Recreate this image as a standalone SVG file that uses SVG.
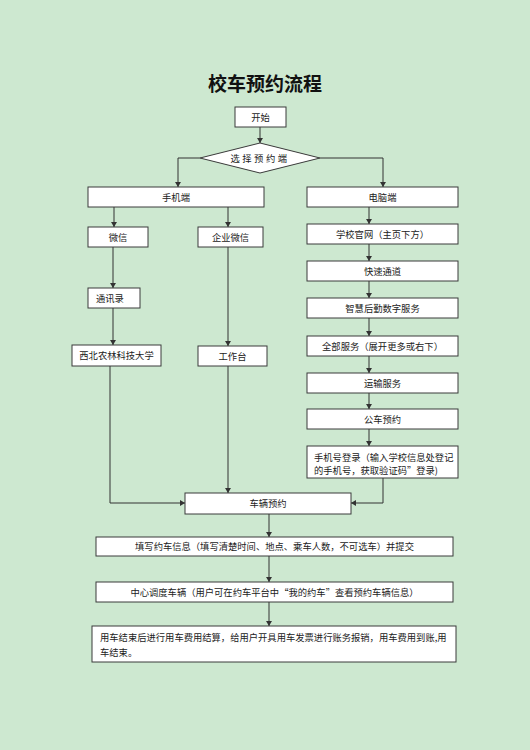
<svg xmlns="http://www.w3.org/2000/svg" width="530" height="750" viewBox="0 0 530 750">
<style>
.bx{fill:#fff;stroke:#3a3a3a;stroke-width:1}
.t{font-family:"Noto Sans CJK SC","Liberation Serif",sans-serif;font-size:9.3px;fill:#222;text-anchor:middle}
.tl{text-anchor:start}
.ln{fill:none;stroke:#333;stroke-width:1}
</style>
<defs>
<marker id="ar" markerUnits="userSpaceOnUse" markerWidth="6" markerHeight="6" refX="5" refY="3" orient="auto">
<path d="M0,0 L5,3 L0,6 z" fill="#333"/>
</marker>
</defs>
<rect width="530" height="750" fill="#cde8d0"/>
<text x="265" y="91" style="font-family:'Noto Sans CJK SC','Liberation Serif',serif;font-size:19px;font-weight:bold;fill:#111;text-anchor:middle">校车预约流程</text>
<g id="connectors">
<path class="ln" d="M260,127 V143" marker-end="url(#ar)"/>
<path class="ln" d="M200,158 H178 V187" marker-end="url(#ar)"/>
<path class="ln" d="M320,158 H383 V187" marker-end="url(#ar)"/>
<path class="ln" d="M114,207 V227" marker-end="url(#ar)"/>
<path class="ln" d="M228,207 V227" marker-end="url(#ar)"/>
<path class="ln" d="M113,247 V288" marker-end="url(#ar)"/>
<path class="ln" d="M228,247 V346" marker-end="url(#ar)"/>
<path class="ln" d="M113,308 V345" marker-end="url(#ar)"/>
<path class="ln" d="M110,366 V503 H185" marker-end="url(#ar)"/>
<path class="ln" d="M228,366 V493" marker-end="url(#ar)"/>
<path class="ln" d="M383,478 V503 H351" marker-end="url(#ar)"/>
<path class="ln" d="M369,207 V224" marker-end="url(#ar)"/>
<path class="ln" d="M369,244 V261" marker-end="url(#ar)"/>
<path class="ln" d="M369,281 V298" marker-end="url(#ar)"/>
<path class="ln" d="M369,318 V336" marker-end="url(#ar)"/>
<path class="ln" d="M369,356 V373" marker-end="url(#ar)"/>
<path class="ln" d="M369,393 V409" marker-end="url(#ar)"/>
<path class="ln" d="M369,429 V446" marker-end="url(#ar)"/>
<path class="ln" d="M269,514 V537" marker-end="url(#ar)"/>
<path class="ln" d="M269,556 V582" marker-end="url(#ar)"/>
<path class="ln" d="M269,602 V626" marker-end="url(#ar)"/>
</g>
<g id="start"><rect class="bx" x="235" y="107" width="51" height="20"/><text class="t" x="260.5" y="120.5">开始</text></g>
<g id="choose"><polygon class="bx" points="200,158 260,143 320,158 260,173"/><text class="t" x="260" y="161.5" style="letter-spacing:2.5px">选择预约端</text></g>
<g id="mobile"><rect class="bx" x="88" y="187" width="176" height="20"/><text class="t" x="176" y="200.5">手机端</text></g>
<g id="wechat"><rect class="bx" x="88" y="227" width="60" height="20"/><text class="t" x="118" y="240.5">微信</text></g>
<g id="wework"><rect class="bx" x="198" y="227" width="65" height="20"/><text class="t" x="230.5" y="240.5">企业微信</text></g>
<g id="contacts"><rect class="bx" x="88" y="288" width="52" height="20"/><text class="t tl" x="96" y="301.5">通讯录</text></g>
<g id="nwafu"><rect class="bx" x="72" y="345" width="89" height="21"/><text class="t" x="116.5" y="358.5">西北农林科技大学</text></g>
<g id="workbench"><rect class="bx" x="198" y="346" width="69" height="20"/><text class="t" x="232.5" y="359.5">工作台</text></g>
<g id="pc"><rect class="bx" x="307" y="187" width="151" height="20"/><text class="t" x="382.5" y="200.5">电脑端</text></g>
<g id="site"><rect class="bx" x="307" y="224" width="151" height="20"/><text class="t" x="382.5" y="237.5">学校官网（主页下方）</text></g>
<g id="fast"><rect class="bx" x="307" y="261" width="151" height="20"/><text class="t" x="382.5" y="274.5">快速通道</text></g>
<g id="smart"><rect class="bx" x="307" y="298" width="151" height="20"/><text class="t" x="382.5" y="311.5">智慧后勤数字服务</text></g>
<g id="all"><rect class="bx" x="307" y="336" width="151" height="20"/><text class="t" x="382.5" y="349.5">全部服务（展开更多或右下）</text></g>
<g id="transport"><rect class="bx" x="307" y="373" width="151" height="20"/><text class="t" x="382.5" y="386.5">运输服务</text></g>
<g id="official"><rect class="bx" x="307" y="409" width="151" height="20"/><text class="t" x="382.5" y="422.5">公车预约</text></g>
<g id="login"><rect class="bx" x="307" y="446" width="151" height="32"/><text class="t tl" x="314" y="461">手机号登录（输入学校信息处登记</text><text class="t tl" x="314" y="474">的手机号，获取验证码”登录)</text></g>
<g id="reserve"><rect class="bx" x="185" y="493" width="166" height="21"/><text class="t" x="268" y="506.5">车辆预约</text></g>
<g id="fill"><rect class="bx" x="96" y="537" width="357" height="19"/><text class="t" x="274.5" y="549.5">填写约车信息（填写清楚时间、地点、乘车人数，不可选车）并提交</text></g>
<g id="dispatch"><rect class="bx" x="96" y="582" width="357" height="20"/><text class="t" x="274.5" y="595.5">中心调度车辆（用户可在约车平台中“我的约车”查看预约车辆信息）</text></g>
<g id="finish"><rect class="bx" x="92" y="626" width="364" height="36"/><text class="t tl" x="100" y="641">用车结束后进行用车费用结算，给用户开具用车发票进行账务报销，用车费用到账,用</text><text class="t tl" x="100" y="656">车结束。</text></g>
</svg>
